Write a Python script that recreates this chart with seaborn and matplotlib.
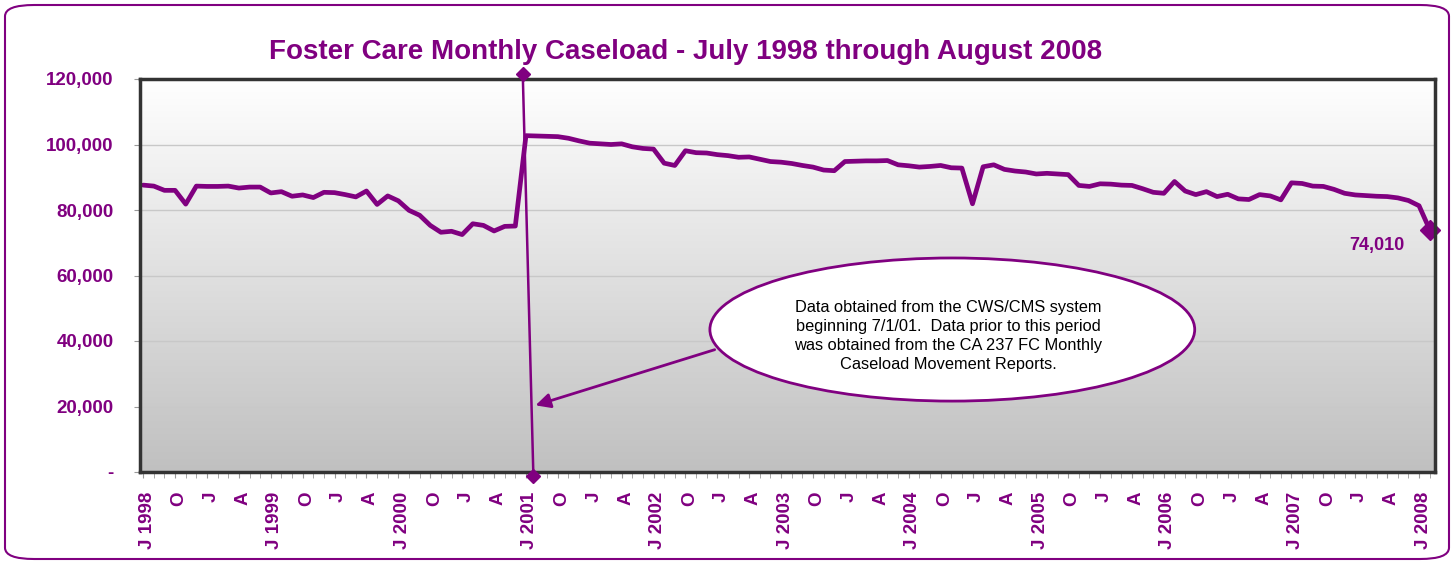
import numpy as np
import pandas as pd
import seaborn as sns
import matplotlib.pyplot as plt
import matplotlib.transforms as mtransforms
from matplotlib.colors import LinearSegmentedColormap
from matplotlib.patches import Ellipse, FancyBboxPatch
from matplotlib.ticker import FixedLocator, MultipleLocator, FuncFormatter

# ------------------------------
# Data (monthly caseload, July 1998 - August 2008)
# ------------------------------
caseload_1998_2001 = [87600, 87300, 86000, 86000, 81800, 87300, 87200, 87200, 87300, 86700, 87000, 87000,
                      85200, 85600, 84200, 84600, 83800, 85400, 85300, 84700, 84000, 85800, 81700, 84300,
                      82800, 79900, 78400, 75300, 73200, 73500, 72500, 75800, 75300, 73600, 75000, 75100]
caseload_2001_2004 = [102700, 102600, 102500, 102400, 101900, 101100, 100400, 100200, 100000, 100200, 99300, 98800,
                      98600, 94300, 93600, 98100, 97500, 97400, 96900, 96600, 96100, 96200, 95500, 94800,
                      94600, 94200, 93600, 93100, 92200, 92000, 94800, 94900, 95000, 95000, 95100, 93800,
                      93500, 93100, 93300, 93600, 92900, 92800]
caseload_2005_2008 = [81900, 93200, 93800, 92400, 91900, 91600, 91000, 91200, 91000, 90800,
                      87500, 87200, 88000, 87900, 87600, 87500, 86500, 85400, 85100,
                      88700, 85800, 84700, 85600, 84100, 84800, 83400, 83200, 84700, 84300, 83100,
                      88300, 88100, 87300, 87200, 86300, 85100, 84600, 84400, 84200, 84100, 83700, 82900, 81300,
                      74010]

caseload = caseload_1998_2001 + caseload_2001_2004 + caseload_2005_2008
months = pd.date_range("1998-07-01", "2008-08-01", freq="MS")
assert len(months) == len(caseload)

df = pd.DataFrame({"idx": np.arange(len(months)), "month": months, "caseload": caseload})

callout_text = ("Data obtained from the CWS/CMS system\n"
                "beginning 7/1/01.  Data prior to this period\n"
                "was obtained from the CA 237 FC Monthly\n"
                "Caseload Movement Reports.")

# ------------------------------
# Style
# ------------------------------
sns.set_style("white")
plt.rcParams['font.family'] = ['Liberation Sans', 'DejaVu Sans']
purple = "#800080"

fig = plt.figure(figsize=(14.54, 5.64), dpi=100)
ax = fig.add_axes([140 / 1454, 1 - 472 / 564, (1435 - 140) / 1454, (472 - 79) / 564])

# outer rounded frame
frame = FancyBboxPatch((5 / 1454, 5 / 564), 1444 / 1454, 554 / 564,
                       boxstyle="round,pad=0,rounding_size=0.02",
                       transform=fig.transFigure, facecolor="white",
                       edgecolor=purple, linewidth=1.5, zorder=-10)
fig.patches.append(frame)

# gradient plot background
grad_cmap = LinearSegmentedColormap.from_list("bg", ["#c0c0c0", "#ffffff"])
ax.imshow(np.linspace(0, 1, 256).reshape(-1, 1), cmap=grad_cmap, origin="lower",
          extent=[0, 1, 0, 1], transform=ax.transAxes, aspect="auto", zorder=0)

# ------------------------------
# Line
# ------------------------------
sns.lineplot(data=df, x="idx", y="caseload", color=purple, linewidth=3.4, ax=ax, zorder=3)
ax.plot(df["idx"].iloc[-1], df["caseload"].iloc[-1], marker="D", markersize=10,
        color=purple, zorder=4, clip_on=False)
ax.annotate(f"{caseload[-1]:,}", xy=(df["idx"].iloc[-1], df["caseload"].iloc[-1]),
            xytext=(-53, -16), textcoords="offset pixels", ha="center", va="center",
            fontsize=13, fontweight="bold", color=purple)

ax.set_xlim(-0.3, 121.5)
ax.set_ylim(0, 120000)

# grid
ax.yaxis.set_major_locator(MultipleLocator(20000))
ax.grid(axis="y", color="#c8c8c8", linewidth=1, zorder=1)
for gl in ax.get_ygridlines():
    gl.set_zorder(1)

ax.yaxis.set_major_formatter(FuncFormatter(lambda v, p: "-" if v == 0 else f"{v:,.0f}"))

# x ticks: every 3 months labelled, monthly minor ticks
tick_idx = [i for i in df["idx"] if i % 3 == 0]
tick_labels = []
for i in tick_idx:
    m = months[i]
    tick_labels.append(f"J {m.year}" if m.month == 7 else m.strftime("%b")[0])
ax.xaxis.set_major_locator(FixedLocator(tick_idx))
ax.set_xticklabels(tick_labels, rotation=90)
ax.xaxis.set_minor_locator(MultipleLocator(1))

ax.tick_params(axis="x", which="both", bottom=True, length=4, color="#999999",
               labelsize=13.5, labelcolor=purple, pad=10)
ax.tick_params(axis="y", left=True, length=4, color="#999999",
               labelsize=13.5, labelcolor=purple, pad=15)
shift = mtransforms.ScaledTranslation(4 / 100, 0, fig.dpi_scale_trans)
for lbl in ax.get_xticklabels():
    lbl.set_fontweight("bold")
    lbl.set_transform(lbl.get_transform() + shift)
for lbl in ax.get_yticklabels():
    lbl.set_fontweight("bold")

ax.set_xlabel("")
ax.set_ylabel("")
for s in ax.spines.values():
    s.set_color("#333333")
    s.set_linewidth(2.5)
    s.set_zorder(5)

# ------------------------------
# Callout: data-source break at July 2001
# ------------------------------
ax.plot([35.7, 36.7], [121500, -1200], color=purple, linewidth=1.8, marker="D",
        markersize=7, clip_on=False, zorder=6)
ax.annotate("", xy=(36.65, 20100), xytext=(54.0, 37600),
            arrowprops=dict(arrowstyle="-|>", color=purple, lw=2, mutation_scale=22),
            zorder=6)
ax.add_patch(Ellipse((76.1, 43500), 45.6, 43700, facecolor="white",
                     edgecolor=purple, linewidth=2, zorder=7))
ax.text(75.7, 41500, callout_text, ha="center", va="center", fontsize=11.8,
        linespacing=1.33, color="black", zorder=8)

# title
fig.text(0.4715, 0.908, "Foster Care Monthly Caseload - July 1998 through August 2008",
         ha="center", va="center", fontsize=20, fontweight="bold", color=purple)

plt.savefig("out.png", dpi=100)
